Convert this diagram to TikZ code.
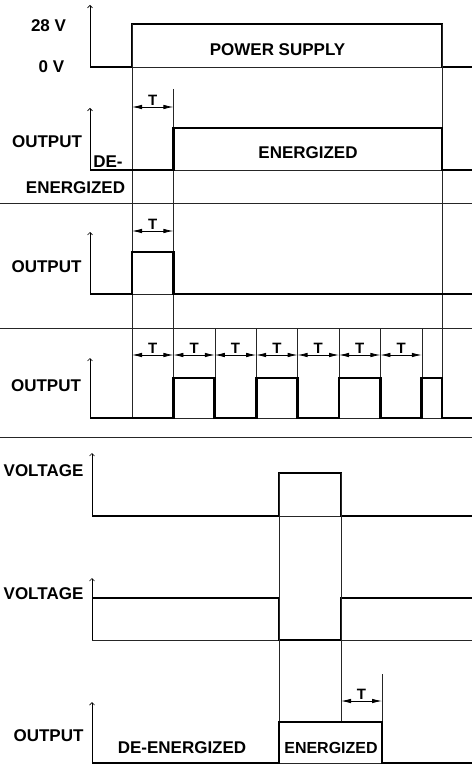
\documentclass[tikz,border=0pt]{standalone}
\usepackage{fontspec}
\setmainfont{Liberation Sans}
\usetikzlibrary{arrows.meta}
\tikzset{
  period/.store in=\Period,
  tick start/.store in=\TickStart,
  period=41.4,
  tick start=132,
  signal/.style={line width=2.8pt, line join=miter},
  guide/.style={line width=0.6pt, black!85},
  divider/.style={line width=0.8pt, black!85},
  yaxis/.style={line width=0.7pt, -{Straight Barb[length=2.5pt,width=5pt]}},
  dim/.style={line width=0.8pt, {Latex[length=10pt,width=4.5pt]}-{Latex[length=10pt,width=4.5pt]}},
  tag/.style={font=\fontsize{17}{19}\selectfont\bfseries, inner sep=0pt},
  ttag/.style={font=\fontsize{15}{17}\selectfont\bfseries, inner sep=0pt}
}

\begin{document}
\begin{tikzpicture}[x=1pt, y=-1pt, line cap=butt]
  \useasboundingbox (0,0) rectangle (472,767);

  % Row 1: power supply
  \draw[yaxis] (90,67) -- (90,5);
  \draw[guide] (90,67) -- (472,67);
  \draw[signal] (90,67) -- (132,67) -- (132,24) -- (442,24) -- (442,67) -- (472,67);
  \node[tag] (v28) at (48.5,26) {28 V};
  \node[tag] (v0) at (51.5,67) {0 V};
  \node[tag] (supply) at (277.5,50) {POWER SUPPLY};

  % Long guides through rows 1-4
  \draw[guide] (132,24) -- (132,418);
  \draw[guide] (442,24) -- (442,418);
  \draw[guide] (173.4,89) -- (173.4,418);

  % Row 2: delayed output
  \draw[dim] (132,107) -- (173.4,107) node[ttag, midway, above=1.5pt] (tdelay) {T};
  \draw[yaxis] (90,170) -- (90,108);
  \draw[guide] (90,170) -- (472,170);
  \draw[signal] (90,170) -- (173.4,170) -- (173.4,128) -- (442,128) -- (442,170) -- (472,170);
  \node[tag] (out2) at (47,142) {OUTPUT};
  \node[tag] (de2) at (108,162) {DE-};
  \node[tag] (en2) at (75.5,188) {ENERGIZED};
  \node[tag] (energ2) at (308,153) {ENERGIZED};
  \draw[divider] (0,203) -- (472,203);

  % Row 3: single pulse
  \draw[dim] (132,231) -- (173.4,231) node[ttag, midway, above=1.5pt] (tpulse) {T};
  \draw[yaxis] (90,294) -- (90,232);
  \draw[guide] (90,294) -- (472,294);
  \draw[signal] (90,294) -- (132,294) -- (132,252) -- (173.4,252) -- (173.4,294) -- (472,294);
  \node[tag] (out3) at (46.5,267) {OUTPUT};
  \draw[divider] (0,328) -- (472,328);

  % Row 4: flasher
  \foreach \i in {2,...,7}
    \draw[guide] ({\TickStart+\i*\Period},328) -- ({\TickStart+\i*\Period},418);
  \foreach \i in {0,...,6}
    \draw[dim] ({\TickStart+\i*\Period},355) -- ({\TickStart+(\i+1)*\Period},355)
      node[ttag, midway, above=1.5pt] (tflash\i) {T};
  \draw[yaxis] (90,418) -- (90,358);
  \draw[guide] (90,418) -- (472,418);
  \draw[signal] (90,418) -- (173.4,418) -- (173.4,378) -- (214.8,378) -- (214.8,418)
    -- (256.2,418) -- (256.2,378) -- (297.6,378) -- (297.6,418)
    -- (339,418) -- (339,378) -- (380.4,378) -- (380.4,418)
    -- (421.8,418) -- (421.8,378) -- (442,378) -- (442,418) -- (472,418);
  \node[tag] (out4) at (46,386) {OUTPUT};
  \draw[divider] (0,437) -- (472,437);

  % Row 5: control voltage, positive pulse
  \draw[yaxis] (92,516) -- (92,453);
  \draw[guide] (92,516) -- (472,516);
  \draw[signal] (92,516) -- (279,516) -- (279,473) -- (341,473) -- (341,516) -- (472,516);
  \node[tag] (volt5) at (43.5,471) {VOLTAGE};

  % Row 6: control voltage, negative pulse
  \draw[yaxis] (92,640) -- (92,578);
  \draw[guide] (92,640) -- (472,640);
  \draw[signal] (92,598) -- (279,598) -- (279,640) -- (341,640) -- (341,598) -- (472,598);
  \node[tag] (volt6) at (43.5,594) {VOLTAGE};

  % Guides through rows 5-7
  \draw[guide] (279,473) -- (279,763);
  \draw[guide] (341,473) -- (341,722);
  \draw[guide] (382,674) -- (382,763);

  % Row 7: output with off delay
  \draw[dim] (341,701) -- (382,701) node[ttag, midway, above=1.5pt] (toff) {T};
  \draw[yaxis] (92,763) -- (92,702);
  \draw[guide] (92,763) -- (472,763);
  \draw[signal] (92,763) -- (279,763) -- (279,722) -- (382,722) -- (382,763) -- (472,763);
  \node[tag] (out7) at (48.5,736) {OUTPUT};
  \node[tag] (de7) at (182,748) {DE-ENERGIZED};
  \node[tag, font=\fontsize{16}{18}\selectfont\bfseries] (en7) at (331,748) {ENERGIZED};
\end{tikzpicture}
\end{document}
